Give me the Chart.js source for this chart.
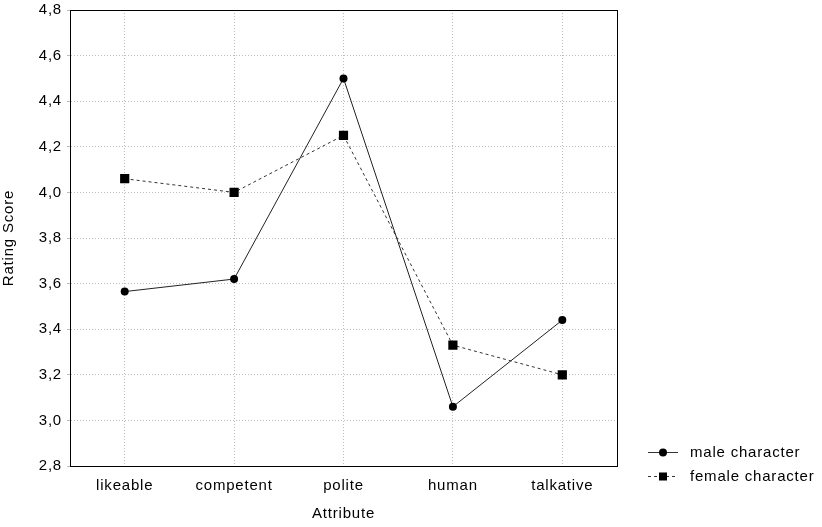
<!DOCTYPE html>
<html>
<head>
<meta charset="utf-8">
<script src="https://cdn.jsdelivr.net/npm/chart.js@4.4.1/dist/chart.umd.min.js"></script>
<style>
  html, body { margin: 0; padding: 0; background: #fff; }
  #wrap { width: 822px; height: 527px; }
</style>
</head>
<body>
<div id="wrap"><canvas id="chart"></canvas></div>
<script>
const attributes = ['likeable', 'competent', 'polite', 'human', 'talkative'];
const maleScores = [3.565, 3.62, 4.50, 3.06, 3.44];
const femaleScores = [4.06, 4.00, 4.25, 3.33, 3.20];
const seriesNames = ['male character', 'female character'];

const font = { family: 'Liberation Sans, Arial, sans-serif', size: 15 };
const spacing = '0.8px';

// the old stats package spaced its text out a bit wider
const spacingPlugin = {
  id: 'spacing',
  beforeLayout(chart) { chart.ctx.letterSpacing = spacing; },
  beforeDraw(chart) { chart.ctx.letterSpacing = spacing; }
};

// frame round the plot area + the legend off to the right
const framePlugin = {
  id: 'frame',
  afterDraw(chart) {
    const { ctx, chartArea: a } = chart;
    ctx.save();
    ctx.strokeStyle = '#000';
    ctx.lineWidth = 1;
    ctx.strokeRect(Math.round(a.left) + 0.5, Math.round(a.top) + 0.5,
      Math.round(a.right - a.left), Math.round(a.bottom - a.top));

    const lx = a.right + 31, ly = [452, 476];
    ctx.font = font.size + 'px ' + font.family;
    ctx.letterSpacing = spacing;
    ctx.textBaseline = 'middle';
    chart.data.datasets.forEach((ds, i) => {
      const y = ly[i] + 0.5;
      ctx.strokeStyle = '#333';
      ctx.setLineDash(i ? [3, 3] : []);
      ctx.beginPath();
      ctx.moveTo(lx, y);
      ctx.lineTo(lx + 30, y);
      ctx.stroke();
      ctx.setLineDash([]);
      ctx.fillStyle = '#000';
      if (i === 0) {
        ctx.beginPath();
        ctx.arc(lx + 15, y, 4, 0, Math.PI * 2);
        ctx.fill();
      } else {
        ctx.fillRect(lx + 11, y - 4, 8, 8);
      }
      ctx.fillText(ds.label, lx + 42, y);
    });
    ctx.restore();
  }
};

function noEdgePadding(axis) {
  axis.paddingTop = 0;
  axis.paddingBottom = 0;
}

new Chart(document.getElementById('chart'), {
  type: 'line',
  data: {
    labels: attributes,
    datasets: [
      {
        label: seriesNames[0],
        data: maleScores,
        borderColor: '#222',
        borderWidth: 1,
        backgroundColor: '#000',
        pointStyle: 'circle',
        pointRadius: 4,
        pointBorderWidth: 0,
        tension: 0
      },
      {
        label: seriesNames[1],
        data: femaleScores,
        borderColor: '#333',
        borderWidth: 1,
        borderDash: [3, 3],
        backgroundColor: '#000',
        pointStyle: 'rect',
        pointRadius: 6.5,
        pointBorderWidth: 0,
        tension: 0
      }
    ]
  },
  options: {
    responsive: true,
    maintainAspectRatio: false,
    animation: false,
    layout: { padding: { left: 0, right: 205, top: 10, bottom: 0 } },
    plugins: {
      legend: { display: false },
      tooltip: { enabled: false }
    },
    scales: {
      x: {
        offset: true,
        grid: { color: '#bdbdbd', tickLength: 0, offset: false },
        border: { color: '#000', dash: [1, 2] },
        ticks: { color: '#000', font: font, padding: 11 },
        title: { display: true, text: 'Attribute', color: '#000', font: font, padding: { top: 10 } },
        afterFit(axis) { axis.height = 61; }
      },
      y: {
        min: 2.8,
        max: 4.8,
        ticks: {
          stepSize: 0.2,
          color: '#000',
          font: font,
          padding: 5,
          callback: v => v.toFixed(1).replace('.', ',')
        },
        grid: { color: '#bdbdbd', tickLength: 3 },
        border: { color: '#000', dash: [1, 2] },
        title: { display: true, text: 'Rating Score', color: '#000', font: font, padding: 0 },
        afterFit(axis) { axis.width = 70; noEdgePadding(axis); }
      }
    }
  },
  plugins: [spacingPlugin, framePlugin]
});
</script>
</body>
</html>
